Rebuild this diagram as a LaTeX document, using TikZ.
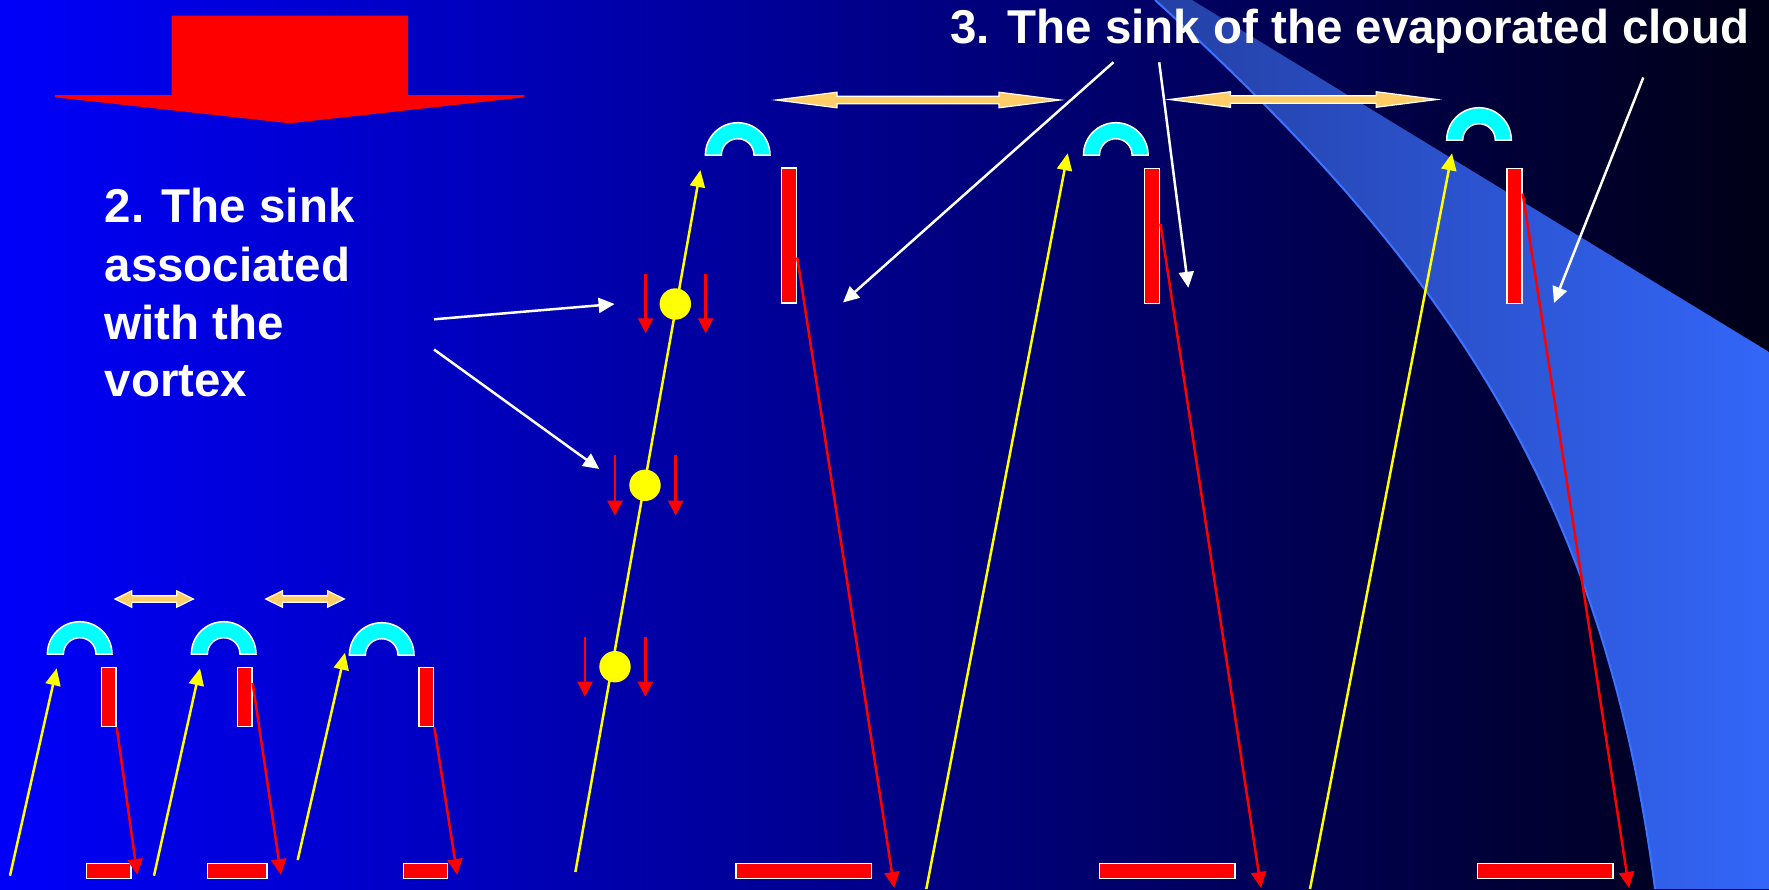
\documentclass[tikz,border=0pt]{standalone}
\usepackage{fontspec}
\setmainfont{Liberation Sans}
\usetikzlibrary{arrows.meta,calc}
\definecolor{bgL}{RGB}{0,0,250}
\definecolor{bgM}{RGB}{0,0,165}
\definecolor{bgR}{RGB}{0,0,22}
\definecolor{bandL}{RGB}{36,64,165}
\definecolor{bandR}{RGB}{51,102,248}
\definecolor{bandEdge}{RGB}{60,115,255}
\definecolor{orng}{RGB}{255,204,102}
\definecolor{cyn}{RGB}{0,255,255}
\definecolor{rd}{RGB}{255,0,0}
\definecolor{yl}{RGB}{255,255,0}
\tikzset{
  slidetext/.style={text=white, inner sep=0pt, anchor=base west, font=\fontsize{47.5}{58}\selectfont\bfseries},
  redbar/.style={draw=white, line width=1.5pt, fill=rd, inner sep=0pt},
  tallbar/.style={redbar, minimum width=15pt, minimum height=135pt},
  smallbar/.style={redbar, minimum width=14.5pt, minimum height=59pt},
  floorbar/.style={redbar, minimum height=15pt},
  ydot/.style={circle, fill=yl, minimum size=31.4pt, inner sep=0pt},
  yarrow/.style={draw=yl, line width=2.5pt, -{Triangle[length=17pt,width=15pt]}},
  rarrow/.style={draw=rd, line width=2.5pt, -{Triangle[length=16pt,width=15pt]}},
  darrow/.style={draw=rd, line width=2.5pt, -{Triangle[length=15pt,width=15pt]}},
  warrow/.style={draw=white, line width=2.5pt, -{Triangle[length=16pt,width=15pt]}},
  pics/arch/.style={code={
    \filldraw[fill=cyn, draw=white, line width=1.5pt]
      (-32.3,0) arc[start angle=180, end angle=0, radius=32.3pt]
      -- (16.3,0) arc[start angle=0, end angle=180, radius=16.3pt] -- cycle;}},
  pics/dbl/.style args={#1/#2/#3/#4}{code={
    \filldraw[fill=orng, draw=white, line width=1.2pt]
      (-#1,0) -- (-#1+#2,-#3) -- (-#1+#2,-#4) -- (#1-#2,-#4) -- (#1-#2,-#3) -- (#1,0)
      -- (#1-#2,#3) -- (#1-#2,#4) -- (-#1+#2,#4) -- (-#1+#2,#3) -- cycle;}}
}
\begin{document}
\begin{tikzpicture}[x=1pt,y=-1pt]
\useasboundingbox (0,0) rectangle (1769,889);
% background
\fill[left color=bgL, middle color=bgM, right color=bgR] (0,0) rectangle (1769,889);
% light band
\fill[left color=bandL, middle color=bandR, right color=bandR]
  (1155,0) .. controls (1441,260) and (1603,489) .. (1655,889)
  -- (1769,889) -- (1769,352) -- (1192,0) -- cycle;
\draw[bandEdge, line width=2pt]
  (1155,0) .. controls (1441,260) and (1603,489) .. (1655,889);
% big red down arrow
\fill[rd] (171.7,15.7) -- (408,15.7) -- (408,95) -- (524.3,95) -- (524.3,97.3) -- (289.7,123.3)
  -- (55.1,97.3) -- (55.1,95) -- (171.7,95) -- cycle;
% texts
\node[slidetext] (title) at (950,43.3) {3. The sink of the evaporated cloud};
\node[slidetext] (l1) at (104.5,222.7) {2. The sink};
\node[slidetext] (l2) at (104.5,281) {associated};
\node[slidetext] (l3) at (104.5,339.3) {with the};
\node[slidetext] (l4) at (104.5,396.7) {vortex};
% double arrows
\pic at (918,100) {dbl={142/61/7.8/3.8}};
\pic at (1303.3,99.5) {dbl={133.8/61/7.8/3.8}};
\pic at (154.2,599) {dbl={39.2/16.7/8.2/3.3}};
\pic at (305,599) {dbl={39.3/16.7/8.2/3.3}};
% arches
\pic at (79.7,654) {arch};
\pic at (223.7,654) {arch};
\pic at (381.7,655) {arch};
\pic at (737.7,155) {arch};
\pic at (1115.8,155) {arch};
\pic at (1479,140) {arch};
% bars
\node[tallbar] (bA) at (789,235.7) {};
\node[tallbar] (bB) at (1152.2,236) {};
\node[tallbar] (bC) at (1514.5,235.9) {};
\node[smallbar] (s1) at (108.7,697) {};
\node[smallbar] (s2) at (244.7,697) {};
\node[smallbar] (s3) at (426.3,697) {};
\node[floorbar, minimum width=135.5pt] (fA) at (803.8,871) {};
\node[floorbar, minimum width=135.5pt] (fB) at (1167.3,871) {};
\node[floorbar, minimum width=135.5pt] (fC) at (1545,871) {};
\node[floorbar, minimum width=44.5pt] (f1) at (108.7,871) {};
\node[floorbar, minimum width=59.5pt] (f2) at (237.2,871) {};
\node[floorbar, minimum width=44pt] (f3) at (425.7,871) {};
% coordinates
\coordinate (yA0) at (575.4,872);  \coordinate (yA1) at (700.4,170);
\coordinate (yB0) at (926.3,889);  \coordinate (yB1) at (1067.7,153.3);
\coordinate (yC0) at (1310,889);   \coordinate (yC1) at (1452,153.3);
\coordinate (y10) at (10,875.7);   \coordinate (y11) at (56.7,668.3);
\coordinate (y20) at (154,875.7);  \coordinate (y21) at (200,668.3);
\coordinate (y30) at (297.7,860);  \coordinate (y31) at (345,652.7);
\coordinate (rA1) at (894.3,888);
\coordinate (rB1) at (1261,888);
\coordinate (rC1) at (1629,888);
\coordinate (r11) at (137.3,875);
\coordinate (r21) at (281,875);
\coordinate (r31) at (457.3,875);
\coordinate (w10) at (434,319.3);   \coordinate (w11) at (614.6,304);
\coordinate (w20) at (434,349.5);   \coordinate (w21) at (599.3,469);
\coordinate (wA0) at (1113.5,62.2); \coordinate (wA1) at (843,302.5);
\coordinate (wB0) at (1159.2,62.3); \coordinate (wB1) at (1188.3,287.8);
\coordinate (wC0) at (1643.3,77.5); \coordinate (wC1) at (1554,303);
% yellow arrows
\draw[yarrow] (yA0) -- (yA1);
\draw[yarrow] (yB0) -- (yB1);
\draw[yarrow] (yC0) -- (yC1);
\draw[yarrow] (y10) -- (y11);
\draw[yarrow] (y20) -- (y21);
\draw[yarrow] (y30) -- (y31);
% yellow dots on the rising line
\node[ydot] (d1) at (675.3,304) {};
\node[ydot] (d2) at (645,485.3) {};
\node[ydot] (d3) at (615,666.7) {};
% red arrows from bars
\draw[rarrow] ($(bA.north east)!0.66!(bA.south east)$) -- (rA1);
\draw[rarrow] ($(bB.north east)!0.41!(bB.south east)$) -- (rB1);
\draw[rarrow] ($(bC.north east)!0.19!(bC.south east)$) -- (rC1);
\draw[rarrow] (s1.south east) -- (r11);
\draw[rarrow] ($(s2.north east)!0.27!(s2.south east)$) -- (r21);
\draw[rarrow] (s3.south east) -- (r31);
% small down arrows beside dots
\draw[darrow] ($(d1)+(-29.6,-30)$) -- ++(0,59.3);
\draw[darrow] ($(d1)+(30.4,-30)$) -- ++(0,59.3);
\draw[darrow] ($(d2)+(-30,-30.3)$) -- ++(0,60.7);
\draw[darrow] ($(d2)+(30.7,-30.3)$) -- ++(0,60.7);
\draw[darrow] ($(d3)+(-30,-30)$) -- ++(0,60);
\draw[darrow] ($(d3)+(30.3,-30)$) -- ++(0,60);
% white arrows
\draw[warrow] (w10) -- (w11);
\draw[warrow] (w20) -- (w21);
\draw[warrow] (wA0) -- (wA1);
\draw[warrow] (wB0) -- (wB1);
\draw[warrow] (wC0) -- (wC1);
\end{tikzpicture}
\end{document}
